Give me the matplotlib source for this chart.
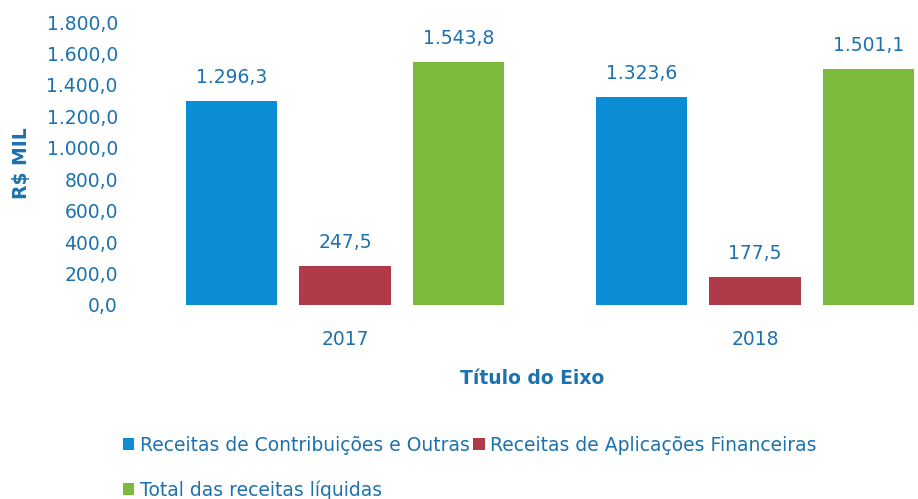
import numpy as np
import matplotlib.pyplot as plt
from matplotlib.ticker import FuncFormatter

anos = ["2017", "2018"]
contribuicoes = [1296.3, 1323.6]
aplicacoes = [247.5, 177.5]
total = [1543.8, 1501.1]
series = ["Receitas de Contribuições e Outras",
          "Receitas de Aplicações Financeiras",
          "Total das receitas líquidas"]

txt = "#1B72AE"
cores = ["#0B8DD6", "#B13A49", "#7CBA3C"]

def br(v, pos=None):
    s = f"{v:,.1f}"
    return s.replace(",", "X").replace(".", ",").replace("X", ".")

plt.rcParams["font.family"] = ["DejaVu Sans"]

fig = plt.figure(figsize=(9.18, 4.99), dpi=100)
ax = fig.add_axes([140 / 918, 1 - 305 / 499, 778 / 918, 283 / 499])

x = np.arange(len(anos))
w = 0.224
step = 0.277
bars = []
for i, vals in enumerate([contribuicoes, aplicacoes, total]):
    b = ax.bar(x + (i - 1) * step, vals, w, color=cores[i], label=series[i])
    bars.append(b)
    for xi, v in zip(x + (i - 1) * step, vals):
        ax.annotate(br(v), (xi, v), xytext=(0, 10), textcoords="offset points",
                    ha="center", va="bottom", fontsize=13.5, color=txt)

ax.set_ylim(0, 1800)
ax.set_yticks(np.arange(0, 1801, 200))
ax.yaxis.set_major_formatter(FuncFormatter(br))
ax.set_xlim(-0.5, 1.3976)
ax.set_xticks(x)
ax.set_xticklabels(anos)
ax.tick_params(length=0, labelsize=13.5, labelcolor=txt)
ax.tick_params(axis="y", pad=16)
ax.tick_params(axis="x", pad=18)
for s in ax.spines.values():
    s.set_visible(False)

ax.set_ylabel("R$ MIL", fontsize=13.5, fontweight="bold", color=txt, labelpad=11)
ax.set_xlabel("Título do Eixo", fontsize=13.5, fontweight="bold", color=txt)
ax.xaxis.set_label_coords(0.504, -0.226)

h = [bars[0], bars[2], bars[1]]
l = [series[0], series[2], series[1]]
leg = fig.legend(h, l, ncol=2, loc="upper left", bbox_to_anchor=(106 / 918, 1 - 419 / 499),
                 frameon=False, fontsize=13.5, handlelength=0.6, handleheight=0.6,
                 handletextpad=0.3, columnspacing=0.2, labelspacing=1.35)
for t in leg.get_texts():
    t.set_color(txt)

fig.savefig("out.png", dpi=100)
